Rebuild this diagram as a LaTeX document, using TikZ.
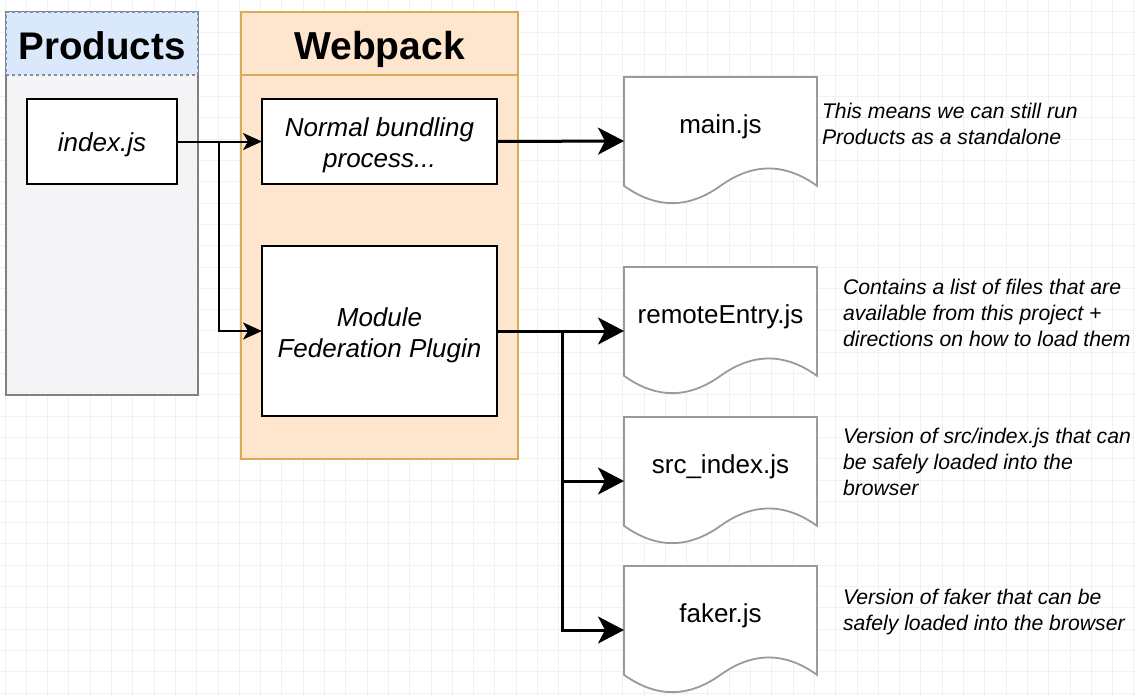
\documentclass[tikz,border=0pt]{standalone}
\usepackage{fontspec}
\setmainfont{Liberation Sans}
\usetikzlibrary{arrows.meta,calc}
\definecolor{gridc}{HTML}{F1F1F1}
\definecolor{prodfill}{HTML}{F4F4F6}
\definecolor{prodline}{HTML}{808080}
\definecolor{prodhfill}{HTML}{DAE8FC}
\definecolor{prodhline}{HTML}{7F8FA6}
\definecolor{wpfill}{HTML}{FDE6CD}
\definecolor{wpline}{HTML}{DBAA55}
\definecolor{docline}{HTML}{9A9A9A}
\begin{document}
\begin{tikzpicture}[x=1pt,y=-1pt,
  every node/.style={inner sep=0pt,outer sep=0pt},
  gridline/.style={draw=gridc,line width=1pt},
  probody/.style={draw=prodline,fill=prodfill,line width=1.8pt},
  prohead/.style={draw=prodhline,fill=prodhfill,dashed,line width=1.2pt,
    font=\fontsize{38.5}{40}\selectfont\bfseries,text height=38,text depth=7},
  wpbody/.style={draw=wpline,fill=wpfill,line width=1.8pt},
  wphead/.style={draw=wpline,fill=wpfill,line width=1.8pt,
    font=\fontsize{39}{40}\selectfont\bfseries,text height=38,text depth=7},
  stepbox/.style={draw=black,fill=white,line width=1.8pt},
  steplabel/.style={align=center,font=\fontsize{26}{31}\selectfont\itshape},
  docbox/.style={minimum width=193,minimum height=128,anchor=north west},
  docshape/.style={draw=docline,fill=white,line width=1.8pt},
  doclabel/.style={anchor=base,font=\fontsize{26}{31}\selectfont},
  desc/.style={anchor=west,align=left,font=\fontsize{21.2}{26}\selectfont\itshape},
  thinarrow/.style={draw=black,line width=2pt,-{Stealth[length=19pt,width=17pt,inset=5pt]}},
  thickarrow/.style={draw=black,line width=3pt,-{Stealth[length=26pt,width=27pt,inset=7pt]}}
]
\useasboundingbox (0,0) rectangle (1135,697);
\fill[white] (0,0) rectangle (1135,697);
\foreach \i in {0,...,53} \draw[gridline] ({5+21.3*\i},0) -- ({5+21.3*\i},697);
\foreach \j in {0,...,32} \draw[gridline] (0,{11.4+21.3*\j}) -- (1135,{11.4+21.3*\j});

% Products container
\node[probody,minimum width=192,minimum height=383,anchor=north west] (prod) at (6,12) {};
\node[prohead,minimum width=192,minimum height=63,anchor=north west] (prodhd) at (6,12) {Products};

% Webpack container
\node[wpbody,minimum width=277,minimum height=447,anchor=north west] (wp) at (241,12) {};
\node[wphead,minimum width=277,minimum height=63,anchor=north west] (wphd) at (241,12) {Webpack};

% inner boxes
\node[stepbox,minimum width=150,minimum height=85,anchor=north west] (idx) at (27,99) {};
\node[steplabel] (idxlbl) at ($(idx.center)+(0,3)$) {index.js};
\node[stepbox,minimum width=235,minimum height=85,anchor=north west] (nb) at (262,99) {};
\node[steplabel] (nblbl) at ($(nb.center)+(0,3.5)$) {Normal bundling\\process...};
\node[stepbox,minimum width=235,minimum height=170,anchor=north west] (mf) at (262,246) {};
\node[steplabel] (mflbl) at ($(mf.center)+(0,4)$) {Module\\Federation Plugin};

% documents
\foreach \nm/\tp/\lb in {main/77/main.js, remote/267/remoteEntry.js, src/417/src\_index.js, faker/566/faker.js}{
  \draw[docshape,shift={(624,\tp)}] (0,0) -- (193,0) -- (193,108.8)
     .. controls (160.8,85.7) and (128.7,85.7) .. (96.5,108.8)
     .. controls (64.3,131.9) and (32.2,131.9) .. (0,108.8) -- cycle;
  \node[docbox] (\nm) at (624,\tp) {};
  \node[doclabel] (\nm lbl) at ($(\nm.north)+(0,56)$) {\lb};
}

% connectors
\draw[thinarrow] (idx.east) -- (nb.west);
\coordinate (ib) at (219,141.5);
\draw[thinarrow] (ib) |- (mf.west);
\draw[thickarrow] (nb.east) -- (main.west);
\draw[thickarrow] (mf.east) -- (remote.west);
\coordinate (br) at (562,331);
\draw[thickarrow] (br) |- (src.west);
\draw[thickarrow] (br) |- (faker.west);

% descriptions
\node[desc] (d1) at (822,124) {This means we can still run\\Products as a standalone};
\node[desc] (d2) at (843,313) {Contains a list of files that are\\available from this project +\\directions on how to load them};
\node[desc] (d3) at (843,462) {Version of src/index.js that can\\be safely loaded into the\\browser};
\node[desc] (d4) at (843,612) {Version of faker that can be\\safely loaded into the browser};
\end{tikzpicture}
\end{document}
